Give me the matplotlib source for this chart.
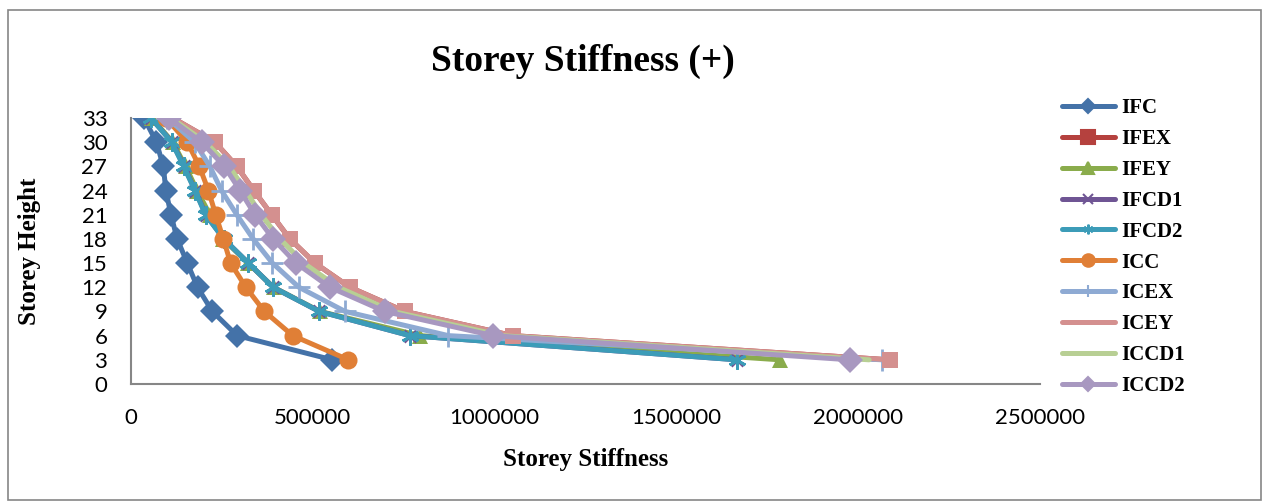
import numpy as np
import matplotlib
matplotlib.use('Agg')
import matplotlib.pyplot as plt
from matplotlib.lines import Line2D
from matplotlib.patches import Rectangle
from matplotlib.ticker import FormatStrFormatter

# storey levels and stiffness values
storeys = [3, 6, 9, 12, 15, 18, 21, 24, 27, 30, 33]

ifc = [554000, 292000, 224000, 183000, 155000, 127000, 110000, 96000, 89000, 70000, 36000]
ifex = [2087000, 1050000, 753000, 602000, 506000, 437000, 387000, 338000, 291000, 231000, 115000]
ifey = [1785000, 795000, 520000, 392000, 322000, 253000, 217000, 182000, 150000, 115000, 57000]
ifcd1 = [1667000, 767000, 518000, 391000, 323000, 255000, 206000, 177000, 146000, 113000, 55000]
ifcd2 = [1667000, 767000, 518000, 391000, 323000, 255000, 205000, 176000, 145000, 112000, 55000]
icc = [598000, 445000, 367000, 316000, 274000, 254000, 233000, 213000, 188000, 155000, 96000]
icex = [2065000, 873000, 589000, 462000, 389000, 336000, 291000, 249000, 217000, 175000, 100000]
icey = [2087000, 1050000, 753000, 602000, 506000, 437000, 387000, 338000, 291000, 231000, 115000]
iccd1 = [2030000, 1020000, 720000, 570000, 475000, 410000, 358000, 315000, 270000, 205000, 110000]
iccd2 = [1977000, 996000, 698000, 547000, 454000, 391000, 341000, 300000, 257000, 194000, 105000]

names = ['IFC', 'IFEX', 'IFEY', 'IFCD1', 'IFCD2', 'ICC', 'ICEX', 'ICEY', 'ICCD1', 'ICCD2']
series = [ifc, ifex, ifey, ifcd1, ifcd2, icc, icex, icey, iccd1, iccd2]
colors = ['#4472A8', '#B5413E', '#8AAC4C', '#6F5594', '#3C9CB8',
          '#E07F36', '#8EAAD3', '#D4908F', '#B8CF94', '#A898C0']
markers = ['D', 's', '^', 'x', (6, 2, 0), 'o', '+', 's', '', 'D']
msizes = [12, 10, 12, 9, 13, 13, 16, 11, 0, 13]
legend_markers = ['D', 's', '^', 'x', (6, 2, 0), 'o', '|', '', '', 'D']
legend_msizes = [7, 10, 8, 7, 7, 9, 8, 0, 0, 7]

serif = ['Liberation Serif', 'DejaVu Serif']

fig = plt.figure(figsize=(12.69, 5.04), dpi=100)
ax = fig.add_axes([0.1032, 0.2381, 0.7164, 0.5278])

for vals, c, m, ms in zip(series, colors, markers, msizes):
    ax.plot(vals, storeys, color=c, lw=3.6, marker=m, markersize=ms,
            markeredgewidth=2 if m in ('x', '+') or isinstance(m, tuple) else 0,
            markeredgecolor=c, solid_capstyle='round', solid_joinstyle='round')

ax.set_xlim(0, 2500000)
ax.set_ylim(0, 33)
ax.set_xticks(np.arange(0, 2500001, 500000))
ax.set_yticks(np.arange(0, 34, 3))
ax.xaxis.set_major_formatter(FormatStrFormatter('%d'))
ax.tick_params(length=0, labelsize=16)
ax.tick_params(axis='x', pad=17)
ax.tick_params(axis='y', pad=17)
for lab in ax.get_xticklabels() + ax.get_yticklabels():
    lab.set_fontfamily(['Lato', 'DejaVu Sans'])
for s in ['top', 'right']:
    ax.spines[s].set_visible(False)
for s in ['left', 'bottom']:
    ax.spines[s].set_color('#868686')
    ax.spines[s].set_linewidth(1.5)

fig.text(0.4594, 0.879, 'Storey Stiffness (+)', ha='center', va='center',
         fontsize=27, fontweight='bold', family=serif)
fig.text(0.4618, 0.089, 'Storey Stiffness', ha='center', va='center',
         fontsize=18, fontweight='bold', family=serif)
fig.text(0.0236, 0.502, 'Storey Height', ha='center', va='center', rotation=90,
         fontsize=18, fontweight='bold', family=serif)

handles = [Line2D([], [], color=c, lw=3.6, marker=m, markersize=ms,
                  markeredgewidth=1.5, markeredgecolor=c, solid_capstyle='round')
           for c, m, ms in zip(colors, legend_markers, legend_msizes)]
fig.legend(handles, names, loc='upper left', bbox_to_anchor=(0.822, 0.842),
           frameon=False, handlelength=2.55, handletextpad=0.3, labelspacing=0.52,
           prop={'family': serif, 'weight': 'bold', 'size': 15})

fig.add_artist(Rectangle((0.006, 0.008), 0.988, 0.972, transform=fig.transFigure,
                         fill=False, edgecolor='#868686', lw=1.2))

fig.savefig('out.png', dpi=100)
